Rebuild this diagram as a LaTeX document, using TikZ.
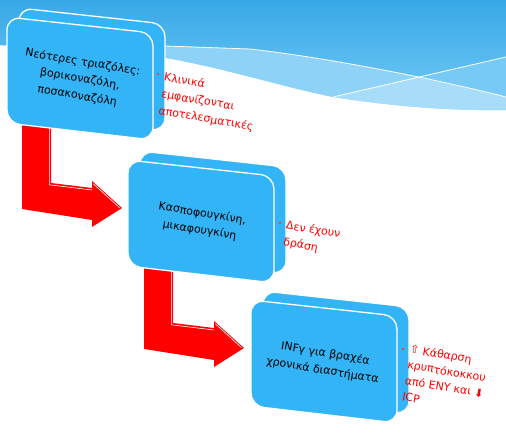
\documentclass[tikz,border=0pt]{standalone}
\usepackage{fontspec}
\setmainfont{DejaVu Sans}
\definecolor{boxblue}{RGB}{50,180,246}
\definecolor{bgtop}{RGB}{56,169,231}
\definecolor{bgmid}{RGB}{108,198,244}
\definecolor{bgmid2}{RGB}{118,202,245}
\definecolor{bglight}{RGB}{142,210,247}
\definecolor{bglighter}{RGB}{168,221,250}
\definecolor{notered}{RGB}{255,0,0}
\tikzset{
  face/.style={fill=boxblue, draw=white, line width=1.3pt, rounded corners=13pt},
  boxtext/.style={rotate=-9.5, align=center, font=\fontsize{11}{17}\selectfont, text=black, inner sep=0pt},
  notetext/.style={rotate=-9.5, align=left, font=\fontsize{11}{17}\selectfont, text=notered, inner sep=0pt, anchor=north west},
  bulletmark/.style={fill=notered!75!white, minimum size=2pt, inner sep=0pt},
  bentarrow/.style={fill=red},
  hiline/.style={draw=white, line width=0.6pt},
}
\newcommand{\tribox}[4]{%
 \begin{scope}[shift={(#1,#2)}]
  \path[face] (12,-9) -- (158,7) -- (158,114) -- (12,97) -- cycle;
  \path[face] (0,0) -- (146,16) -- (146,123) -- (0,106) -- cycle;
  \node[boxtext] (#3) at (73,62) {#4};
 \end{scope}}
\newcommand{\bentarr}[3]{%
 \begin{scope}[shift={(#1,#2)}]
  \coordinate (#3) at (100,88);
  \path[bentarrow] (0,0) -- (29,0) -- (29,63) -- (70,68) -- (70,61) -- (#3) -- (70,107) -- (70,100) -- (0,89) -- cycle;
  \path[hiline] (27.3,0) -- (27.3,64.8) -- (70,70);
  \path[hiline] (71.3,63.8) -- (97.5,87.6);
 \end{scope}}
\begin{document}
\begin{tikzpicture}[x=1pt,y=-1pt]
\useasboundingbox (0,0) rectangle (506,435);
% background
\fill[white] (0,0) rectangle (506,435);
\fill[top color=bgtop, bottom color=bgmid] (0,0) -- (506,0) -- (506,97)
   .. controls (440,80) and (330,58) .. (250,49) -- (165,46) -- (0,45) -- cycle;
\fill[bglight] (165,46) -- (250,49) .. controls (330,58) and (440,80) .. (506,97)
   -- (506,110) .. controls (450,111) and (390,106) .. (333,97)
   .. controls (290,89) and (220,67) .. (165,58) -- cycle;
\fill[bglighter] (333,97) -- (417,77) .. controls (450,84) and (480,90) .. (506,97)
   -- (506,110) .. controls (450,111) and (390,106) .. (333,97) -- cycle;
\fill[bgmid2] (417,77) -- (506,57) -- (506,97) .. controls (480,90) and (450,84) .. (417,77) -- cycle;
\draw[white, line width=0.8pt] (165,46) -- (250,49) .. controls (330,58) and (440,80) .. (506,97);
\draw[white, line width=0.8pt] (333,97) -- (506,57);
% arrows
\bentarr{22}{120}{a1}
\bentarr{144}{260}{a2}
% boxes
\tribox{7}{17}{b1}{Νεότερες τριαζόλες:\\βορικοναζόλη,\\ποσακοναζόλη}
\tribox{128}{160}{b2}{Κασποφουγκίνη,\\μικαφουγκίνη}
\tribox{251}{300}{b3}{INFγ για βραχέα\\χρονικά διαστήματα}
% notes
\node[bulletmark] (m1) at (157.5,74.5) {};
\node[notetext] (n1) at (165,72) {Κλινικά\\εμφανίζονται\\αποτελεσματικές};
\node[bulletmark] (m2) at (280,223) {};
\node[notetext] (n2) at (287,220) {Δεν έχουν\\δράση};
\node[bulletmark] (m3) at (402.5,349) {};
\node[notetext, font=\fontsize{11}{16}\selectfont] (n3) at (411,344) {⇧ Κάθαρση\\κρυπτόκοκκου\\από ENY και ⬇\\ICP};
\end{tikzpicture}
\end{document}
